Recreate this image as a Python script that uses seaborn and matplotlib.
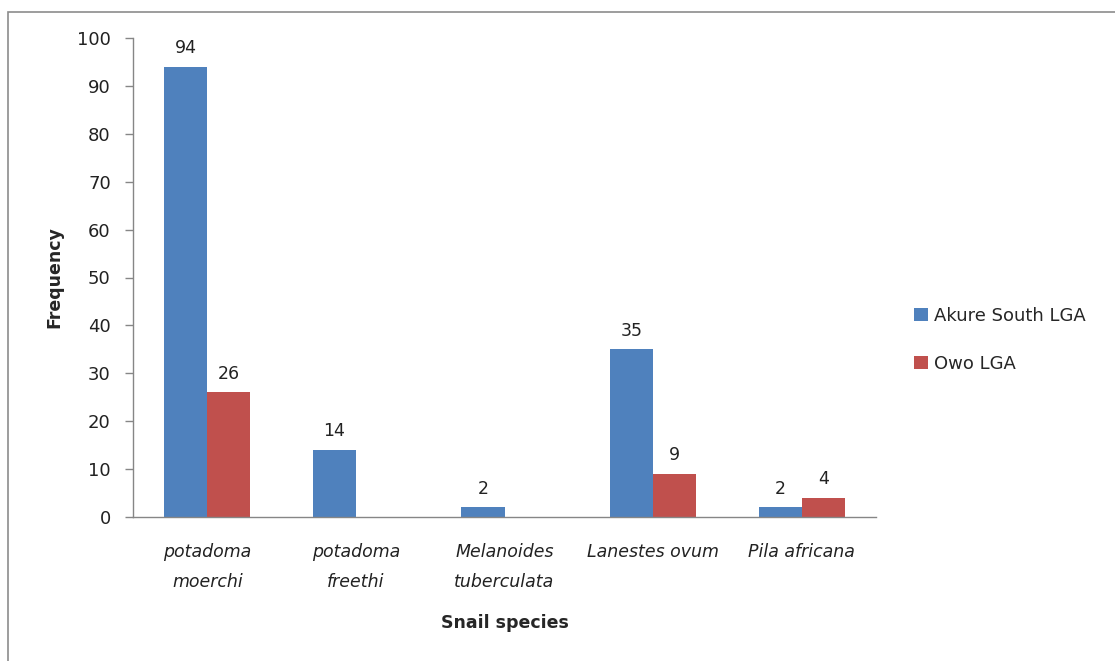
import numpy as np
import pandas as pd
import seaborn as sns
import matplotlib
matplotlib.use("Agg")
import matplotlib.pyplot as plt
from matplotlib.patches import Rectangle

species = ["potadoma\nmoerchi", "potadoma\nfreethi", "Melanoides\ntuberculata", "Lanestes ovum", "Pila africana"]
akure = [94, 14, 2, 35, 2]
owo = [26, np.nan, np.nan, 9, 4]
series_names = ["Akure South LGA", "Owo LGA"]
colors = ["#4F81BD", "#C0504D"]
y_ticks = [0, 10, 20, 30, 40, 50, 60, 70, 80, 90, 100]

df = pd.DataFrame({
    "species": species * 2,
    "value": akure + owo,
    "series": [series_names[0]] * len(species) + [series_names[1]] * len(species),
})

sns.set_style("white")
plt.rcParams["font.family"] = ["DejaVu Sans"]

fig = plt.figure(figsize=(11.15, 6.61), dpi=100)
ax = fig.add_axes([133 / 1115, 1 - 517 / 661, (876 - 133) / 1115, (517 - 38) / 661])

sns.barplot(data=df, x="species", y="value", hue="series", order=species,
            hue_order=series_names, palette=colors, width=0.58, saturation=1,
            errorbar=None, ax=ax, linewidth=0)

for cont in ax.containers:
    for bar in cont.patches:
        if bar is None:
            continue
        h = bar.get_height()
        if h is None or not np.isfinite(h) or h <= 0:
            continue
        ax.annotate(f"{int(round(h))}", (bar.get_x() + bar.get_width() / 2, h),
                    xytext=(0, 7), textcoords="offset points", ha="center", va="bottom",
                    fontsize=12.5, color="#222222")

ax.set_ylim(0, 100)
ax.set_xlim(-0.5, len(species) - 0.5)
ax.set_yticks(y_ticks)
ax.set_yticklabels([str(t) for t in y_ticks], fontsize=13, color="#222222")
ax.set_xticks(range(len(species)))
ax.set_xticklabels(species, fontsize=12.5, style="italic", color="#222222", linespacing=1.8)
ax.set_xticks(np.arange(-0.5, len(species)), minor=True)
ax.tick_params(axis="x", which="major", length=0, pad=19)
ax.tick_params(axis="x", which="minor", length=7, direction="out", color="#868686", width=1)
ax.tick_params(axis="y", which="major", length=6, direction="out", color="#868686", width=1, pad=10, left=True)

for s in ["top", "right"]:
    ax.spines[s].set_visible(False)
for s in ["left", "bottom"]:
    ax.spines[s].set_color("#868686")
    ax.spines[s].set_linewidth(1)

ax.set_xlabel("Snail species", fontsize=12.5, fontweight="bold", labelpad=17)
ax.set_ylabel("Frequency", fontsize=12.5, fontweight="bold", labelpad=10)

handles, labels = ax.get_legend_handles_labels()
ax.legend(handles, labels, loc="center left", bbox_to_anchor=(898 / 1115, 1 - 340 / 661),
          bbox_transform=fig.transFigure, frameon=False, fontsize=13,
          handlelength=0.75, handleheight=0.75, handletextpad=0.35, labelspacing=1.65)

fig.patches.append(Rectangle((8 / 1115, -0.1), 1.2, 1 - 12 / 661 + 0.1, transform=fig.transFigure,
                             fill=False, edgecolor="#8c8c8c", linewidth=1.2))

fig.savefig("out.png", dpi=100)
